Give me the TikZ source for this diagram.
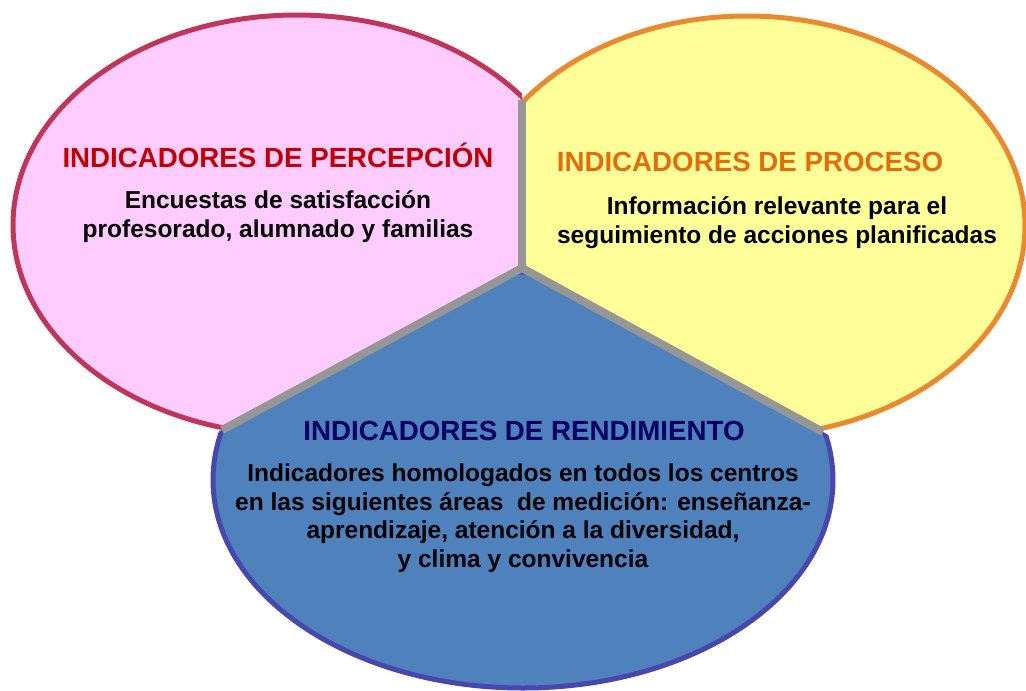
\documentclass[tikz,border=0pt]{standalone}
\usepackage{fontspec}
\setmainfont{Liberation Sans}

\definecolor{pinkfill}{RGB}{255,204,255}
\definecolor{pinkline}{RGB}{190,55,90}
\definecolor{yellowfill}{RGB}{255,255,153}
\definecolor{orangeline}{RGB}{233,138,49}
\definecolor{bluefill}{RGB}{79,129,189}
\definecolor{blueline}{RGB}{72,72,172}
\definecolor{divgray}{RGB}{150,150,150}
\definecolor{redtitle}{RGB}{192,0,0}
\definecolor{orangetitle}{RGB}{228,108,10}
\definecolor{navytitle}{RGB}{0,0,102}

\tikzset{
  outline/.style={line width=5pt},
  divider/.style={line width=8pt, draw=divgray},
  heading/.style={font=\fontsize{27.7}{32}\selectfont\bfseries, anchor=base},
  bodytext/.style={font=\fontsize{24.5}{28.5}\selectfont\bfseries, align=center, anchor=base},
}

\begin{document}
\begin{tikzpicture}[x=1pt,y=-1pt]
\useasboundingbox (0,0) rectangle (1026,691);

\coordinate (centre) at (522,268);
\coordinate (top) at (522,100);
\coordinate (left) at (222,430);
\coordinate (right) at (823,432);

% percepcion
\begin{scope}
\clip (522,-50) -- (centre) -- (-378,754) -- (-378,-50) -- cycle;
\fill[pinkfill] (297,225) ellipse [x radius=284, y radius=210];
\draw[outline, pinkline] (297,225) ellipse [x radius=284, y radius=210];
\end{scope}

% proceso
\begin{scope}
\clip (522,-50) -- (centre) -- (1425,760) -- (1425,-50) -- cycle;
\fill[yellowfill] (747,226) ellipse [x radius=278, y radius=210];
\draw[outline, orangeline] (747,226) ellipse [x radius=278, y radius=210];
\end{scope}

% rendimiento
\begin{scope}
\clip (centre) -- (-378,754) -- (-378,800) -- (1425,800) -- (1425,760) -- cycle;
\fill[bluefill] (523,480) ellipse [x radius=310, y radius=208];
\draw[outline, blueline] (523,480) ellipse [x radius=310, y radius=208];
\end{scope}

\draw[divider] (top) -- (centre);
\draw[divider] (centre) -- (left);
\draw[divider] (centre) -- (right);

% texts (base = last line)
\node[heading, text=redtitle] (perctitle) at (278,167) {INDICADORES DE PERCEPCIÓN};
\node[bodytext] (perctext) at (278,237) {Encuestas de satisfacción\\profesorado, alumnado y familias};

\node[heading, text=orangetitle] (proctitle) at (750,171) {INDICADORES DE PROCESO};
\node[bodytext] (proctext) at (777,243) {Información relevante para el\\seguimiento de acciones planificadas};

\node[heading, text=navytitle] (rendtitle) at (524,440) {INDICADORES DE RENDIMIENTO};
\node[bodytext] (rendtext) at (523,567) {Indicadores homologados en todos los centros\\en las siguientes áreas~ de medición: enseñanza-\\aprendizaje, atención a la diversidad,\\y clima y convivencia};

\end{tikzpicture}
\end{document}
